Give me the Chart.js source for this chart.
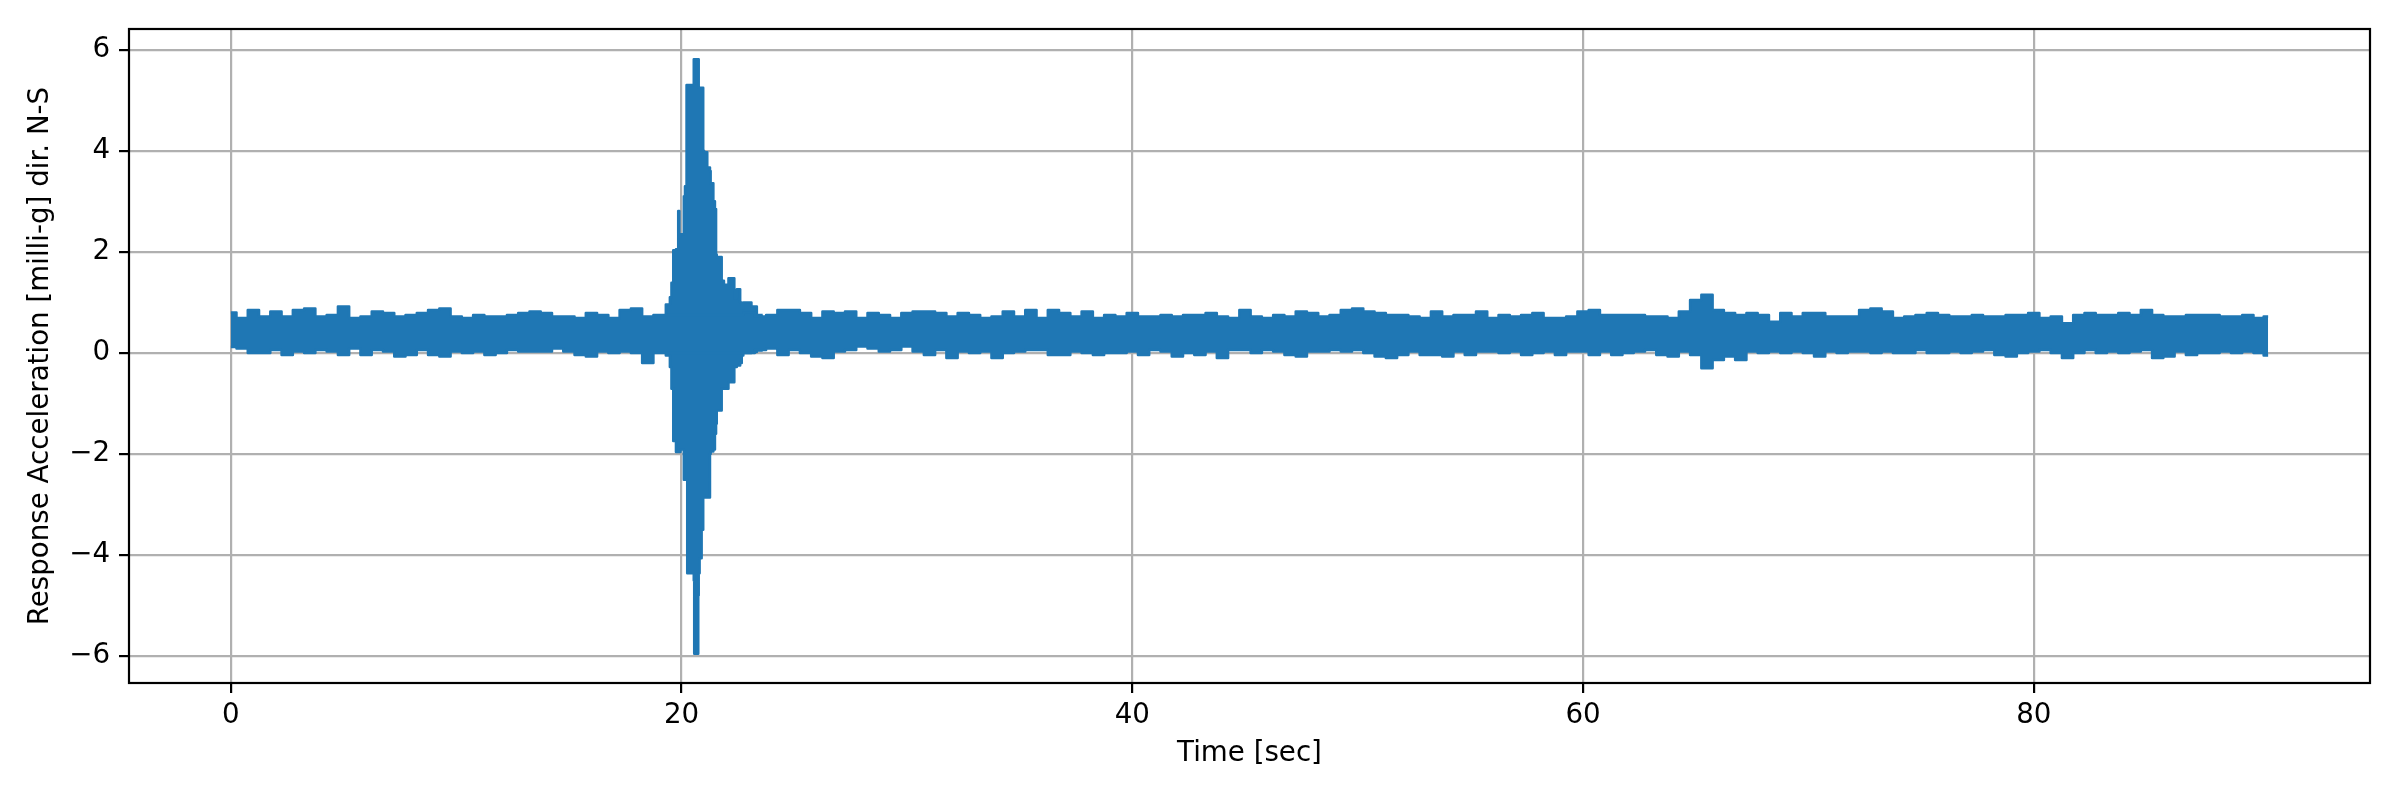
<!DOCTYPE html>
<html>
<head>
<meta charset="utf-8">
<script src="https://cdn.jsdelivr.net/npm/chart.js"></script>
<style>
body{margin:0;background:#fff;}
#wrap{width:2400px;height:800px;}
</style>
</head>
<body>
<div id="wrap"><canvas id="c" width="2400" height="800"></canvas></div>
<script>
// envelope of the record, read every 0.5 s (last point is the end of the record)
var dt = 0.5;
var tEnd = 90.4;
var upperQuiet = [
  0.80,0.69,0.85,0.72,0.82,0.72,0.85,0.88,0.72,0.75,
  0.92,0.69,0.72,0.82,0.79,0.72,0.75,0.79,0.85,0.88,
  0.72,0.69,0.75,0.72,0.72,0.75,0.79,0.82,0.79,0.72,
  0.72,0.69,0.79,0.75,0.69,0.85,0.88,0.72,0.75,0.75,
  0.75,0.75,0.75,0.75,0.75,0.75,0.80,0.72,0.75,0.85,
  0.85,0.79,0.69,0.82,0.79,0.82,0.69,0.79,0.75,0.69,
  0.79,0.82,0.82,0.79,0.72,0.79,0.75,0.69,0.72,0.82,
  0.72,0.85,0.69,0.85,0.79,0.72,0.82,0.69,0.75,0.72,
  0.79,0.72,0.72,0.75,0.72,0.75,0.75,0.79,0.72,0.69,
  0.85,0.72,0.69,0.75,0.72,0.82,0.79,0.72,0.75,0.85,
  0.88,0.82,0.79,0.75,0.75,0.72,0.69,0.82,0.72,0.75,
  0.75,0.82,0.69,0.75,0.72,0.75,0.79,0.69,0.69,0.72,
  0.82,0.85,0.75,0.75,0.75,0.75,0.72,0.72,0.69,0.82,
  1.05,1.15,0.85,0.79,0.75,0.79,0.75,0.62,0.79,0.72,
  0.79,0.79,0.72,0.72,0.72,0.85,0.88,0.82,0.69,0.72,
  0.75,0.79,0.75,0.72,0.72,0.75,0.72,0.72,0.75,0.75,
  0.79,0.69,0.72,0.59,0.75,0.79,0.75,0.75,0.79,0.75,
  0.85,0.75,0.72,0.72,0.75,0.75,0.75,0.72,0.72,0.75,
  0.69,0.72
];
var lowerQuiet = [
  0.12,0.09,0.00,0.00,0.06,-0.04,0.03,0.00,0.06,0.03,
  -0.04,0.09,-0.04,0.06,0.03,-0.07,-0.04,0.06,-0.04,-0.07,
  0.03,0.00,0.03,-0.04,0.00,0.06,0.03,0.03,0.03,0.09,
  0.03,-0.04,-0.07,0.03,0.00,0.03,0.00,-0.20,0.00,0.00,
  0.00,0.00,0.00,0.00,0.00,0.00,0.00,0.06,0.09,-0.04,
  0.06,0.00,-0.07,-0.10,0.03,0.06,0.13,0.09,0.03,0.06,
  0.13,0.03,-0.04,0.06,-0.10,0.03,0.00,0.03,-0.10,0.00,
  0.03,0.06,0.06,-0.04,-0.04,0.03,0.00,-0.04,0.00,0.00,
  0.03,-0.04,0.06,0.03,-0.07,0.00,-0.04,0.03,-0.10,0.06,
  0.06,0.00,0.06,0.03,-0.04,-0.07,0.03,0.03,0.06,0.03,
  0.06,0.00,-0.07,-0.10,-0.04,0.03,-0.04,-0.04,-0.07,0.03,
  -0.04,0.03,0.03,0.00,0.03,-0.04,0.00,0.03,-0.04,0.03,
  0.03,-0.04,0.03,-0.04,0.00,0.03,0.06,-0.04,-0.07,0.03,
  -0.04,-0.30,-0.14,-0.07,-0.14,0.03,0.00,0.03,0.00,0.03,
  0.00,-0.07,0.03,0.00,0.03,0.03,0.00,0.03,0.00,0.00,
  0.06,0.00,0.00,0.03,0.00,0.03,0.06,-0.04,-0.07,0.00,
  0.03,0.06,0.00,-0.10,0.00,0.06,0.00,0.03,0.00,0.03,
  0.06,-0.10,-0.07,0.03,-0.04,0.00,0.00,0.03,0.00,0.03,
  0.00,-0.05
];

// the event around 20 s, read finer
var burstTime = [19.3,19.48,19.55,19.63,19.75,19.85,19.9,19.95,20.1,20.15,
  20.22,20.25,20.34,20.54,20.56,20.59,20.74,20.76,20.8,20.89,
  20.96,21.0,21.14,21.26,21.29,21.41,21.48,21.53,21.56,21.78,
  21.88,22.08,22.34,22.45,22.6,22.67,22.74,23.1,23.34,23.6];
var burstUpper = [0.75,0.96,1.1,1.39,2.03,2.05,2.81,2.3,2.35,3.1,
  3.3,5.3,5.3,5.3,5.81,5.81,5.81,5.81,5.25,5.25,
  5.25,4.0,3.97,3.67,3.6,3.36,3.0,2.85,1.95,1.9,
  1.43,1.35,1.48,1.09,1.26,1.0,0.88,1.0,0.92,0.75];
var burstLower = [0.0,-0.05,-0.28,-0.71,-1.74,-1.96,-1.96,-1.96,-1.91,-2.51,
  -2.51,-2.51,-4.36,-4.36,-4.5,-5.95,-5.95,-4.8,-4.36,-4.06,
  -3.5,-2.86,-2.86,-2.86,-2.0,-1.95,-1.91,-1.6,-1.4,-1.14,
  -0.71,-0.71,-0.58,-0.28,-0.25,-0.2,-0.05,0.0,0.02,0.05];

var xTicks = [0,20,40,60,80];
var yTicks = [-6,-4,-2,0,2,4,6];

var blue = '#1f77b4';
var font = {family:'DejaVu Sans', size:27.7};

function toPoints(times, vals){
  var pts = [];
  for(var i=0;i<vals.length;i++) pts.push({x:times[i], y:vals[i]});
  return pts;
}

var quietTime = [];
for(var i=0;i<upperQuiet.length;i++) quietTime.push(Math.min(i*dt, tEnd));

function band(times, vals, fill, stepped){
  return {data: toPoints(times, vals), borderColor: blue, backgroundColor: blue,
    borderWidth: 2.5, borderJoinStyle: 'round', pointRadius: 0, tension: 0,
    stepped: stepped, fill: fill};
}

var frame = {
  id:'frame',
  afterDraw: function(chart){
    var a = chart.chartArea, ctx = chart.ctx;
    ctx.save();
    ctx.strokeStyle = '#000';
    ctx.lineWidth = 2.2;
    ctx.strokeRect(a.left, a.top, a.right - a.left, a.bottom - a.top);
    ctx.restore();
  }
};

function minus(v){ return String(v).replace('-', '\u2212'); }

new Chart(document.getElementById('c').getContext('2d'), {
  type: 'line',
  data: {
    datasets: [
      band(quietTime, lowerQuiet, false, 'middle'),
      band(quietTime, upperQuiet, '-1', 'middle'),
      band(burstTime, burstLower, false, 'after'),
      band(burstTime, burstUpper, '-1', 'after')
    ]
  },
  options: {
    responsive: false,
    animation: false,
    devicePixelRatio: 1,
    layout: {padding: {left:0, right:30, top:29, bottom:0}},
    plugins: {legend:{display:false}, tooltip:{enabled:false}},
    scales: {
      x: {
        type: 'linear', min: -4.52, max: 94.92,
        afterBuildTicks: function(s){ s.ticks = xTicks.map(function(v){ return {value:v}; }); },
        afterFit: function(s){ s.height = 117; },
        ticks: {font: font, color:'#000', padding: 6, maxRotation: 0, callback: function(v){ return minus(v); }},
        grid: {color:'#b0b0b0', lineWidth:2.2, tickColor:'#000', tickLength:10, tickWidth:2.2},
        border: {display:false},
        title: {display:true, text:'Time [sec]', font: font, color:'#000', padding:{top:0, bottom:30}}
      },
      y: {
        type: 'linear', min: -6.53, max: 6.41,
        afterBuildTicks: function(s){ s.ticks = yTicks.map(function(v){ return {value:v}; }); },
        afterFit: function(s){ s.width = 129; },
        ticks: {font: font, color:'#000', padding: 9, callback: function(v){ return minus(v); }},
        grid: {color:'#b0b0b0', lineWidth:2.2, tickColor:'#000', tickLength:10, tickWidth:2.2},
        border: {display:false},
        title: {display:true, text:'Response Acceleration [milli-g] dir. N-S', font: font, color:'#000', padding:{top:24, bottom:0}}
      }
    }
  },
  plugins: [frame]
});
</script>
</body>
</html>
